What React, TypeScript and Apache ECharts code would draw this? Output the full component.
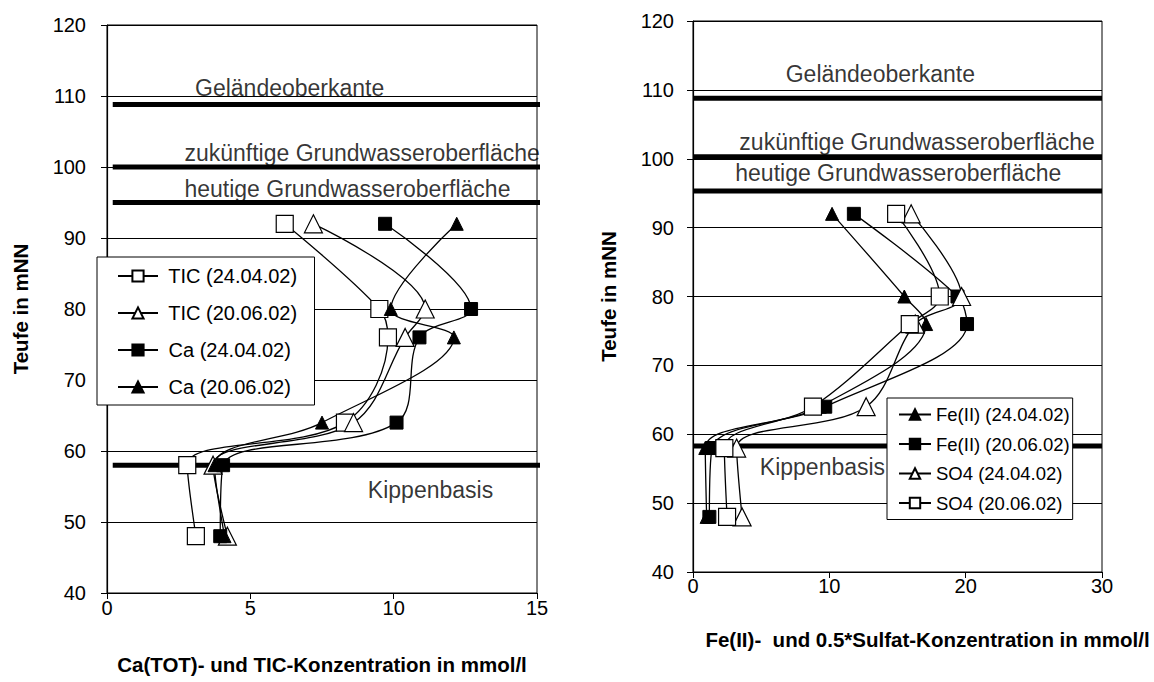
import React, { useEffect, useRef } from "react";
import * as echarts from "echarts";

const depths = [92, 80, 76, 64, 58, 48];

// left chart (Ca / TIC)
const ticApr = [6.2, 9.5, 9.8, 8.3, 2.8, 3.1];
const ticJun = [7.2, 11.1, 10.4, 8.6, 3.7, 4.2];
const caApr = [9.7, 12.7, 10.9, 10.1, 4.05, 3.95];
const caJun = [12.2, 9.9, 12.1, 7.5, 3.75, 4.1];

// right chart (Fe / SO4)
const feApr = [10.2, 15.5, 17.1, 9.3, 0.9, 1.0];
const feJun = [11.8, 19.4, 20.1, 9.7, 1.4, 1.2];
const so4Apr = [16.0, 19.7, 16.3, 12.7, 3.2, 3.6];
const so4Jun = [14.9, 18.1, 15.9, 8.8, 2.3, 2.5];

const leftLevels = [108.8, 100, 95, 58];
const rightLevels = [108.8, 100.3, 95.3, 58.3];
const leftLevelX = [0.2, 15.85];
const rightLevelX = [0, 30];

const leftNotes: [number, number, string][] = [
  [3.07, 111.1, "Geländeoberkante"],
  [2.7, 102.0, "zukünftige Grundwasseroberfläche"],
  [2.7, 96.9, "heutige Grundwasseroberfläche"],
  [9.1, 54.5, "Kippenbasis"],
];
const rightNotes: [number, number, string][] = [
  [6.8, 112.3, "Geländeoberkante"],
  [3.4, 102.4, "zukünftige Grundwasseroberfläche"],
  [3.1, 97.9, "heutige Grundwasseroberfläche"],
  [4.9, 55.3, "Kippenbasis"],
];

const leftLegend = ["TIC (24.04.02)", "TIC (20.06.02)", "Ca (24.04.02)", "Ca (20.06.02)"];
const rightLegend = ["Fe(II) (24.04.02)", "Fe(II) (20.06.02)", "SO4 (24.04.02)", "SO4 (20.06.02)"];

const FONT = "Liberation Sans, Arial, sans-serif";

const openStyle = { color: "#fff", borderColor: "#000", borderWidth: 1.2 };
const fillStyle = { color: "#000", borderColor: "#000", borderWidth: 1 };

function profile(name: string, xs: number[], symbol: string, open: boolean, size: number, idx: number) {
  return {
    name,
    type: "line",
    xAxisIndex: idx,
    yAxisIndex: idx,
    data: xs.map((x, i) => [x, depths[i]]),
    smooth: 0.35,
    symbol,
    symbolSize: size,
    showAllSymbol: true,
    lineStyle: { color: "#000", width: 1.3 },
    itemStyle: open ? openStyle : fillStyle,
    z: 5,
  };
}

function levelSeries(levels: number[], xs: number[], idx: number) {
  return levels.map((lv, i) => ({
    name: "level" + idx + "_" + i,
    type: "line",
    xAxisIndex: idx,
    yAxisIndex: idx,
    data: [[xs[0], lv], [xs[1], lv]],
    symbol: "none",
    clip: false,
    lineStyle: { color: "#000", width: 5 },
    silent: true,
    z: 3,
  }));
}

function noteSeries(notes: [number, number, string][], idx: number) {
  return {
    name: "notes" + idx,
    type: "scatter",
    xAxisIndex: idx,
    yAxisIndex: idx,
    symbolSize: 0,
    silent: true,
    clip: false,
    data: notes.map((n) => ({
      value: [n[0], n[1]],
      label: {
        show: true,
        position: "right",
        distance: 0,
        formatter: n[2],
        color: "#000",
        fontSize: 23,
        fontFamily: FONT,
      },
    })),
    z: 4,
  };
}

export default function App() {
  const ref = useRef<HTMLDivElement>(null);
  useEffect(() => {
    if (!ref.current) return;
    const chart = echarts.init(ref.current, null, { renderer: "svg" });
    const axisLabel = { color: "#000", fontSize: 20, fontFamily: FONT };
    const axisLine = { show: true, lineStyle: { color: "#000", width: 1.2 } };
    const axisTick = { show: true, length: 6, inside: false, lineStyle: { color: "#000" } };
    const splitLine = { show: true, lineStyle: { color: "#000", width: 1 } };
    const nameStyle = { color: "#000", fontSize: 20.5, fontWeight: "bold", fontFamily: FONT };
    chart.setOption({
      animation: false,
      backgroundColor: "#fff",
      grid: [
        { left: 107, top: 25, width: 430, height: 568, show: true, borderColor: "#000", borderWidth: 1 },
        { left: 693, top: 21, width: 409, height: 551, show: true, borderColor: "#000", borderWidth: 1 },
      ],
      xAxis: [
        {
          type: "value", gridIndex: 0, min: 0, max: 15, interval: 5,
          axisLine, axisTick, splitLine: { show: false },
          axisLabel: { ...axisLabel, margin: 5 },
          name: "Ca(TOT)- und TIC-Konzentration in mmol/l",
          nameLocation: "middle", nameGap: 61, nameTextStyle: nameStyle,
        },
        {
          type: "value", gridIndex: 1, min: 0, max: 30, interval: 10,
          axisLine, axisTick, splitLine: { show: false },
          axisLabel: { ...axisLabel, margin: 4 },
          name: "Fe(II)-  und 0.5*Sulfat-Konzentration in mmol/l",
          nameLocation: "middle", nameGap: 57,
          nameTextStyle: { ...nameStyle, padding: [0, 0, 0, 60] },
        },
      ],
      yAxis: [
        {
          type: "value", gridIndex: 0, min: 40, max: 120, interval: 10,
          axisLine, axisTick, splitLine,
          axisLabel: { ...axisLabel, margin: 21 },
          name: "Teufe in mNN", nameLocation: "middle", nameGap: 76, nameTextStyle: nameStyle,
        },
        {
          type: "value", gridIndex: 1, min: 40, max: 120, interval: 10,
          axisLine, axisTick, splitLine,
          axisLabel: { ...axisLabel, margin: 19 },
          name: "Teufe in mNN", nameLocation: "middle", nameGap: 74, nameTextStyle: nameStyle,
        },
      ],
      legend: [
        {
          orient: "vertical", left: 97, top: 257,
          data: leftLegend,
          formatter: " {name}",
          backgroundColor: "#fff", borderColor: "#000", borderWidth: 1,
          padding: [9, 17, 8, 20], itemGap: 17, itemWidth: 40, itemHeight: 14,
          textStyle: { color: "#000", fontSize: 20, fontFamily: FONT },
        },
        {
          orient: "vertical", left: 887, top: 398,
          data: rightLegend,
          backgroundColor: "#fff", borderColor: "#000", borderWidth: 1,
          padding: [7, 3, 7, 11], itemGap: 10.5, itemWidth: 32, itemHeight: 13,
          textStyle: { color: "#000", fontSize: 18.5, fontFamily: FONT },
        },
      ],
      series: [
        ...levelSeries(leftLevels, leftLevelX, 0),
        ...levelSeries(rightLevels, rightLevelX, 1),
        noteSeries(leftNotes, 0),
        noteSeries(rightNotes, 1),
        profile(leftLegend[0], ticApr, "rect", true, 17, 0),
        profile(leftLegend[1], ticJun, "triangle", true, 18, 0),
        profile(leftLegend[2], caApr, "rect", false, 13, 0),
        profile(leftLegend[3], caJun, "triangle", false, 13, 0),
        profile(rightLegend[0], feApr, "triangle", false, 13, 1),
        profile(rightLegend[1], feJun, "rect", false, 13, 1),
        profile(rightLegend[2], so4Apr, "triangle", true, 18, 1),
        profile(rightLegend[3], so4Jun, "rect", true, 17, 1),
      ],
    });
    return () => chart.dispose();
  }, []);
  return (
    <div
      ref={ref}
      style={{ position: "fixed", left: 0, top: 0, width: 1154, height: 682, background: "#fff" }}
    />
  );
}
